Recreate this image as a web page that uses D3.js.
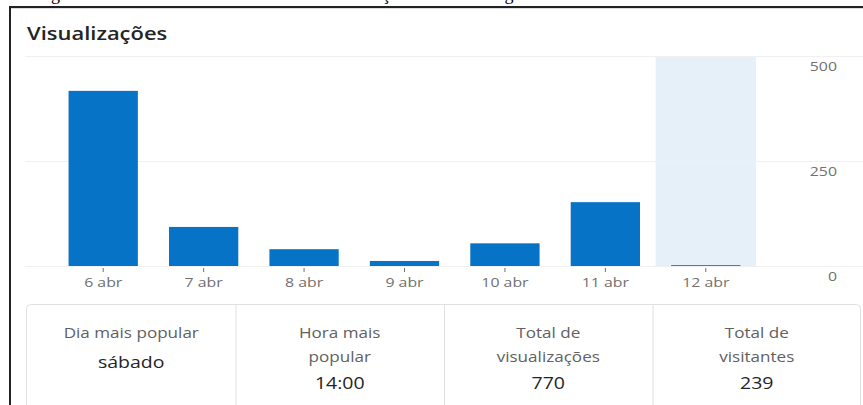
<!DOCTYPE html>
<html>
<head>
<meta charset="utf-8">
<style>
body { margin: 0; background: #fff; }
svg { display: block; font-family: "Open Sans", "Noto Sans", sans-serif; }
.grid line { stroke: #f0f0f0; }
.xaxis text, .yaxis text { fill: #707070; font-size: 13px; font-family: "Open Sans", sans-serif; }
.xaxis line { stroke: #707070; }
</style>
</head>
<body>
<svg id="svg"></svg>
<script src="https://cdnjs.cloudflare.com/ajax/libs/d3/7.8.5/d3.min.js"></script>
<script>
// data
var days = ['6 abr', '7 abr', '8 abr', '9 abr', '10 abr', '11 abr', '12 abr']
var views = [417, 93, 40, 12, 54, 152, 2]
var yTicks = [0, 250, 500]
var highlightDay = '12 abr'
var statLabels = [['Dia mais popular'], ['Hora mais', 'popular'], ['Total de', 'visualizações'], ['Total de', 'visitantes']]
var statValues = ['sábado', '14:00', '770', '239']

var W = 863, H = 405
var sx = 1.22 // the screenshot text is a bit stretched sideways
var svg = d3.select('#svg').attr('width', W).attr('height', H)

// text helper, stretched around its anchor
function label(parent, x0, y0, t, anchor) {
    return parent.append('g')
        .attr('transform', 'translate(' + x0 + ',' + y0 + ') scale(' + sx + ',1)')
      .append('text')
        .attr('text-anchor', anchor || 'start')
        .text(t)
}

// bits of the page around the screenshot
var cap = svg.append('text')
    .attr('y', 0)
    .style('font-family', '"Liberation Serif", serif')
    .style('font-size', '18px')
    .attr('fill', '#000')
cap.append('tspan').attr('x', 36).text('Figura 1 – Gráfico de')
cap.append('tspan').attr('x', 318).text('visualizações')
cap.append('tspan').attr('x', 459).text('do blog')

svg.append('line').attr('x1', 10).attr('x2', W).attr('y1', 7).attr('y2', 7)
    .attr('stroke', '#222').attr('stroke-width', 2)
svg.append('line').attr('x1', 10).attr('x2', W).attr('y1', 8.5).attr('y2', 8.5)
    .attr('stroke', '#ddd').attr('stroke-width', 1)
svg.append('line').attr('x1', 10).attr('x2', 10).attr('y1', 6).attr('y2', H)
    .attr('stroke', '#222').attr('stroke-width', 2)

label(svg, 27, 40, 'Visualizações')
    .style('font-size', '18px')
    .style('font-weight', 600)
    .attr('fill', '#242424')

// scales
var x = d3.scaleBand()
    .domain(days)
    .range([53, 756])
    .paddingInner(0.31)
    .paddingOuter(0.155)

var y = d3.scaleLinear()
    .domain([0, 500])
    .range([266, 56])

// highlighted day
svg.append('rect')
    .attr('x', x(highlightDay) - x.step() * x.paddingInner() / 2)
    .attr('width', x.step())
    .attr('y', y(500))
    .attr('height', y(0) - y(500))
    .attr('fill', '#e6f0f9')

// grid lines
svg.append('g').attr('class', 'grid')
    .selectAll('line')
    .data(yTicks).enter()
    .append('line')
    .attr('x1', 25).attr('x2', W)
    .attr('y1', d => y(d) + 0.5).attr('y2', d => y(d) + 0.5)

// bars
svg.append('g').selectAll('rect')
    .data(views).enter()
    .append('rect')
    .attr('x', (d, i) => x(days[i]))
    .attr('width', x.bandwidth())
    .attr('y', d => y(d))
    .attr('height', d => y(0) - y(d))
    .attr('fill', '#0773c6')

// x axis
var xAxis = d3.axisBottom(x).tickSize(4).tickPadding(6)
var gx = svg.append('g').attr('class', 'xaxis')
    .attr('transform', 'translate(0,' + (y(0) + 2) + ')')
    .call(xAxis)
gx.select('.domain').remove()
gx.selectAll('text').attr('transform', 'scale(' + sx + ',1)')

// y axis labels sit under their grid line
var yAxis = d3.axisRight(y).tickValues(yTicks).tickSize(0).tickPadding(0)
var gy = svg.append('g').attr('class', 'yaxis')
    .attr('transform', 'translate(837,0)')
    .call(yAxis)
gy.select('.domain').remove()
gy.selectAll('text').attr('text-anchor', 'end').attr('dy', '1.1em')
    .attr('transform', 'scale(' + sx + ',1)')

// stat cards
var cards = d3.scaleBand().domain(d3.range(statValues.length)).range([27, 861])
var cardTop = 304
svg.append('rect')
    .attr('x', 26.5).attr('y', cardTop + 0.5)
    .attr('width', 834).attr('height', 130)
    .attr('rx', 4)
    .attr('fill', 'none').attr('stroke', '#e0e0e0')
svg.append('g').selectAll('line')
    .data(d3.range(1, statValues.length)).enter()
    .append('line')
    .attr('x1', d => cards(d) + 0.5).attr('x2', d => cards(d) + 0.5)
    .attr('y1', cardTop).attr('y2', H)
    .attr('stroke', '#e0e0e0')

statValues.forEach(function(d, i) {
    var cx = cards(i) + cards.bandwidth() / 2
    var lines = statLabels[i]
    lines.forEach(function(t, j) {
        label(svg, cx, 338 + j * 24, t, 'middle')
            .style('font-size', '14px')
            .attr('fill', '#616161')
    })
    label(svg, cx, 338 + (lines.length - 1) * 24 + (lines.length == 1 ? 30 : 27), d, 'middle')
        .style('font-size', '16px')
        .attr('fill', '#242424')
})
</script>
</body>
</html>
